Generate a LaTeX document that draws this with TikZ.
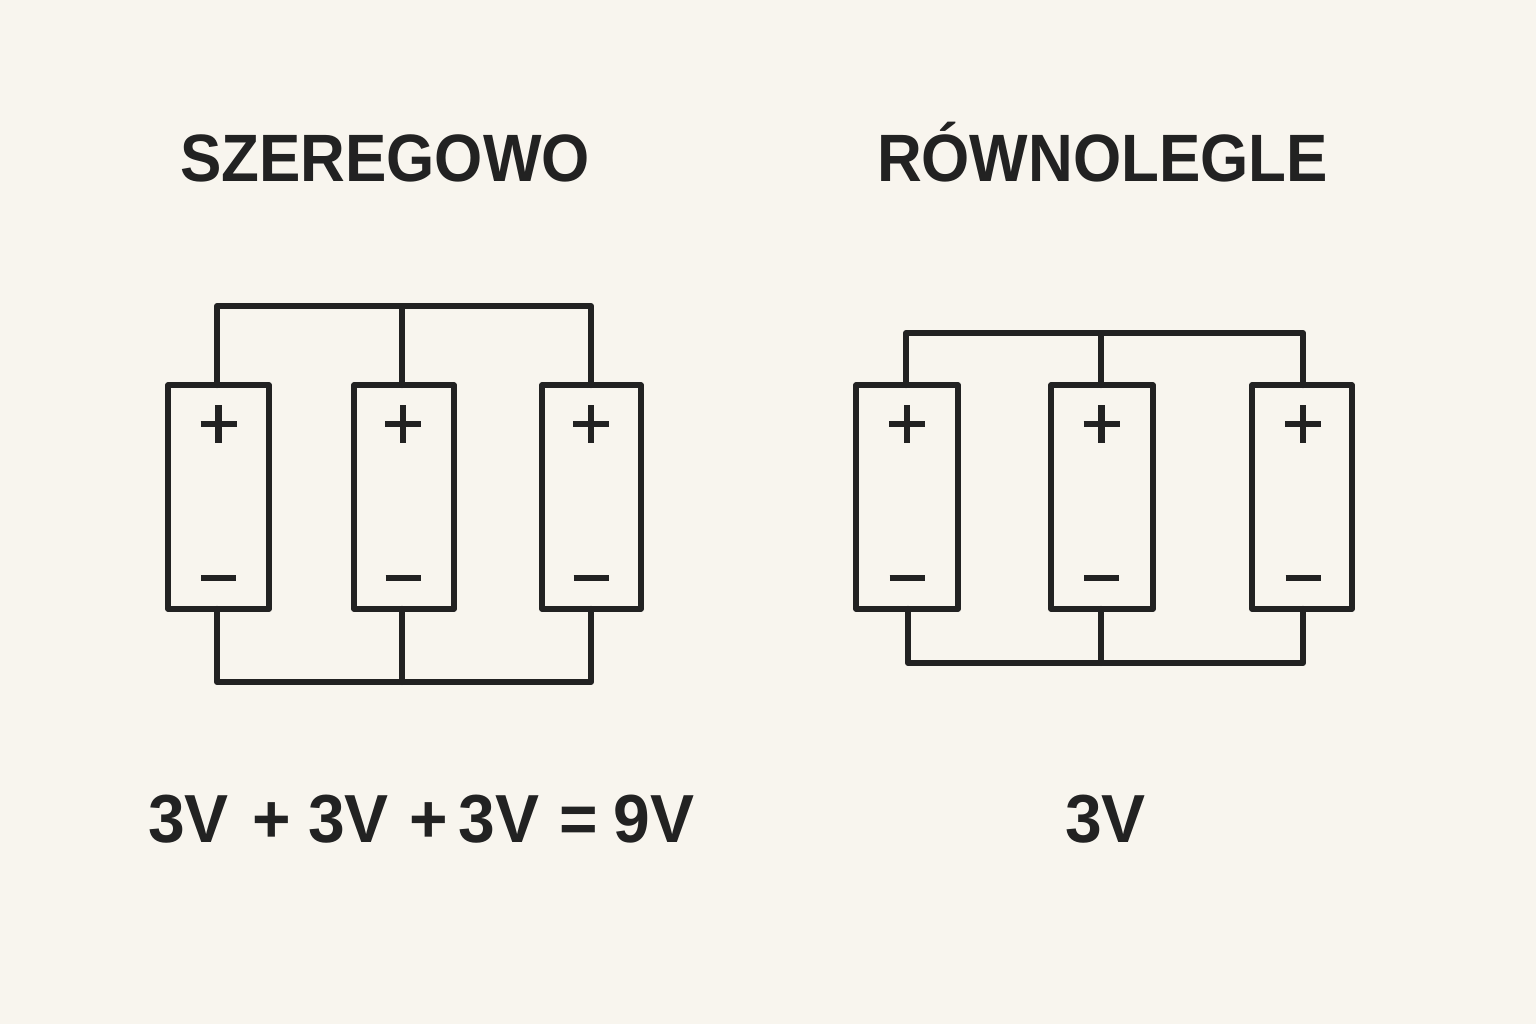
\documentclass[tikz,border=0pt]{standalone}
\usepackage{graphicx}
\usepackage{fontspec}
\setmainfont{Liberation Sans}
\usetikzlibrary{calc}
\definecolor{bg}{HTML}{F8F5EE}
\definecolor{ink}{HTML}{222222}
\newcommand{\headtext}[1]{\scalebox{.925}[1]{#1}}
\newcommand{\sumtext}[1]{\scalebox{.97}[1]{#1}}
\tikzset{
  x=1pt,y=-1pt,
  cell/.style={draw=ink,line width=6.4pt,line join=round,inner sep=0pt,outer sep=0pt,rectangle},
  wire/.style={draw=ink,line width=6pt,line cap=round,line join=round},
  sym/.style={draw=ink,line width=6.6pt},
  big/.style={text=ink,inner sep=0pt,anchor=base,font=\fontsize{67}{67}\selectfont\bfseries},
  sum/.style={big,font=\fontsize{68}{68}\selectfont\bfseries}
}
\newcommand{\batt}[4]{%
  \node[cell,minimum width={#3-#2-6.4pt},minimum height={230pt-6.4pt},anchor=center] (#1) at ({(#2+#3)/2},497) {};
  \coordinate (#1p) at (#4,424);
  \coordinate (#1m) at (#4,578);
  \draw[sym] ($(#1p)+(-18,0)$) -- ($(#1p)+(18,0)$);
  \draw[sym] ($(#1p)+(0,-19)$) -- ($(#1p)+(0,19)$);
  \draw[sym] ($(#1m)+(-17.5,0)$) -- ($(#1m)+(17.5,0)$);
}
\begin{document}
\begin{tikzpicture}
\useasboundingbox[fill=bg] (0,0) rectangle (1536,1024);
\batt{a}{165}{272}{218.5}
\batt{b}{351}{457}{403}
\batt{c}{539}{644}{591}
\batt{d}{853}{961}{907}
\batt{e}{1048}{1156}{1101.5}
\batt{f}{1249}{1355}{1303}
\coordinate (t1) at (217,306); \coordinate (t2) at (402,306); \coordinate (t3) at (591,306);
\coordinate (u1) at (217,682); \coordinate (u2) at (402,682); \coordinate (u3) at (591,682);
\draw[wire] (t1 |- a.north) -- (t1) -- (t3) -- (t3 |- c.north);
\draw[wire] (t2) -- (t2 |- b.north);
\draw[wire] (u1 |- a.south) -- (u1) -- (u3) -- (u3 |- c.south);
\draw[wire] (u2) -- (u2 |- b.south);
\coordinate (v1) at (906,333); \coordinate (v2) at (1101,333); \coordinate (v3) at (1303,333);
\coordinate (w1) at (908,663); \coordinate (w2) at (1101,663); \coordinate (w3) at (1303,663);
\draw[wire] (v1 |- d.north) -- (v1) -- (v3) -- (v3 |- f.north);
\draw[wire] (v2) -- (v2 |- e.north);
\draw[wire] (w1 |- d.south) -- (w1) -- (w3) -- (w3 |- f.south);
\draw[wire] (w2) -- (w2 |- e.south);
\node[big] (h1) at (385,182) {\headtext{SZEREGOWO}};
\node[big] (h2) at (1102.5,182) {\headtext{RÓWNOLEGLE}};
\node[sum,anchor=base west] (s1) at (148,842) {\sumtext{3V\hspace{24pt}+\hspace{18.2pt}3V\hspace{21pt}+\hspace{11pt}3V\hspace{21pt}=\hspace{16pt}9V}};
\node[sum] (s2) at (1105.5,842) {\sumtext{3V}};
\end{tikzpicture}
\end{document}
